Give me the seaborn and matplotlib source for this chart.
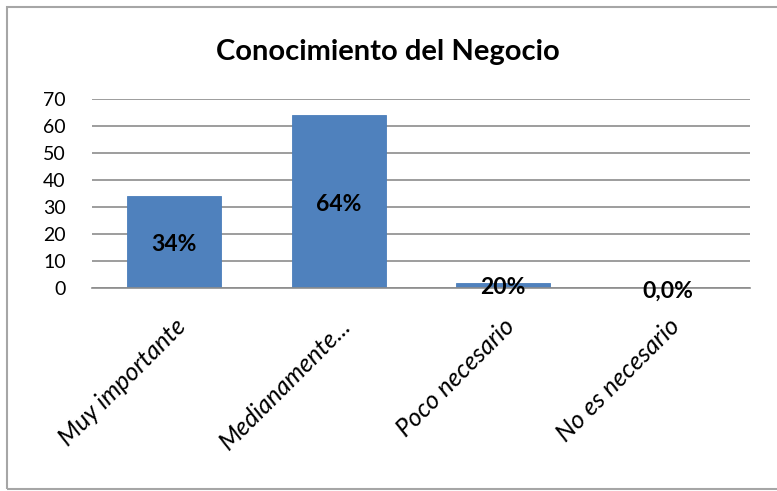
import matplotlib
matplotlib.use('Agg')
import matplotlib.pyplot as plt
import seaborn as sns
import pandas as pd
from matplotlib.patches import Rectangle

# ── Data ────────────────────────────────────────────────────
categorias = ['Muy importante', 'Medianamente...', 'Poco necesario', 'No es necesario']
valores = [34, 64, 2, 0]
etiquetas = ['34%', '64%', '20%', '0,0%']
yticks = [0, 10, 20, 30, 40, 50, 60, 70]

sns.set_style('white')
plt.rcParams['font.family'] = ['Lato', 'DejaVu Sans']

df = pd.DataFrame({'categoria': categorias, 'valor': valores})

fig = plt.figure(figsize=(7.77, 4.91), dpi=100)
ax = fig.add_axes([92 / 777, 1 - 288 / 491, (750 - 92) / 777, (288 - 99) / 491])

sns.barplot(data=df, x='categoria', y='valor', color='#4F81BD',
            width=0.57, saturation=1, ax=ax, edgecolor='#4A7EBB', linewidth=0.6)

ax.set_ylim(0, 70)
ax.set_yticks(yticks)
ax.set_xlim(-0.5, len(categorias) - 0.5)
ax.yaxis.grid(True, color='#8C8C8C', linewidth=1.2)
ax.set_axisbelow(True)
for side in ['top', 'right', 'left']:
    ax.spines[side].set_visible(False)
ax.spines['bottom'].set_color('#8C8C8C')
ax.spines['bottom'].set_linewidth(1.2)
ax.set_xlabel('')
ax.set_ylabel('')
ax.tick_params(axis='y', length=0, labelsize=14, pad=19)
ax.tick_params(axis='x', length=0, labelsize=18, pad=19)
for lbl in ax.get_yticklabels():
    lbl.set_color('black')
ax.set_xticks(range(len(categorias)))
ax.set_xticklabels(categorias, rotation=45, ha='right', rotation_mode='anchor',
                   style='italic', color='black')

# value labels centred on the bars
for i, (v, t) in enumerate(zip(valores, etiquetas)):
    ax.text(i, v / 2 - (1.2 if v == 0 else 1.0), t, ha='center', va='center',
            fontsize=16.5, fontweight='bold', color='black')

fig.text(388 / 777, 1 - 52 / 491, 'Conocimiento del Negocio', ha='center', va='center',
         fontsize=21, fontweight='bold', color='black')

# outer chart border (right side runs off the image)
fig.patches.append(Rectangle((7 / 777, 2 / 491), 800 / 777, 482 / 491,
                             transform=fig.transFigure, fill=False,
                             edgecolor='#A6A6A6', linewidth=1.5))

fig.savefig('out.png', dpi=100, facecolor='white')
